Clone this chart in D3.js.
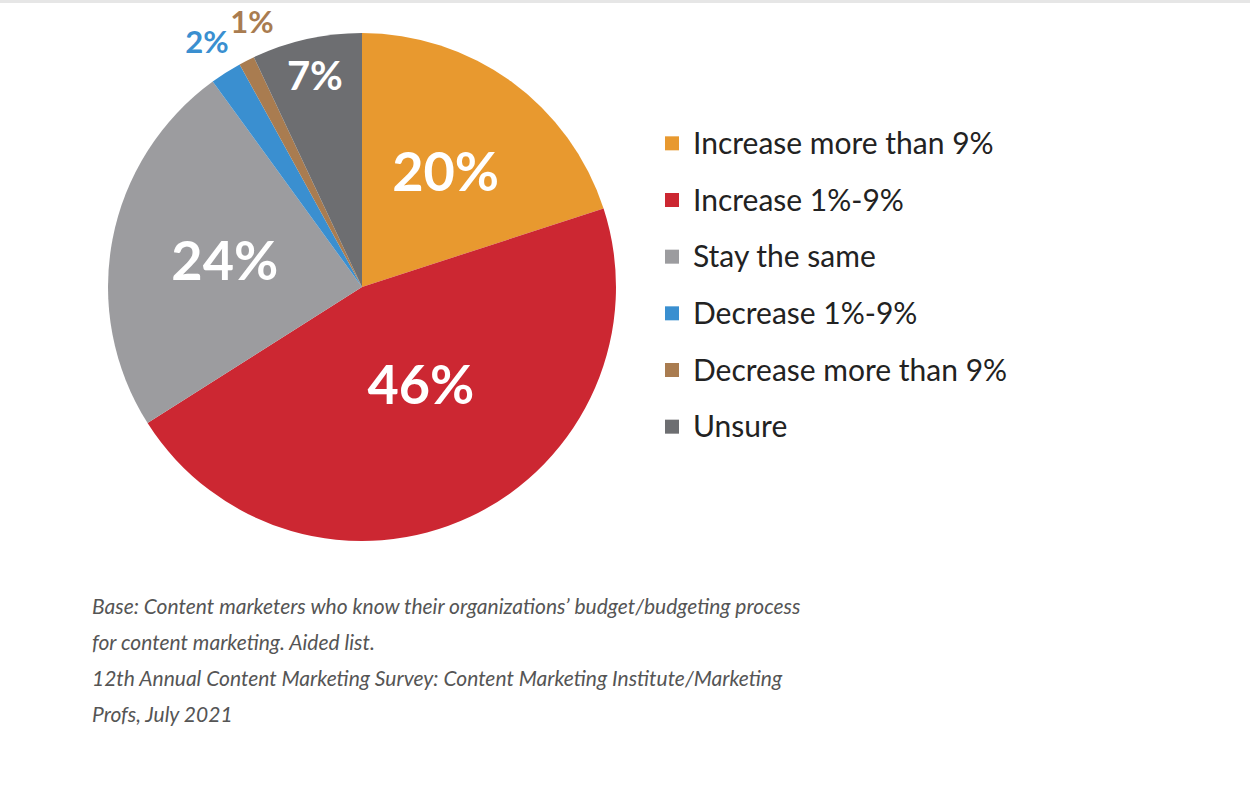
<!DOCTYPE html>
<html>
<head>
<meta charset="utf-8">
<script src="https://cdn.jsdelivr.net/npm/d3@7"></script>
<style>
  body { margin: 0; background: #fff; }
</style>
</head>
<body>
<script>
// data
var categories = ["Increase more than 9%", "Increase 1%-9%", "Stay the same", "Decrease 1%-9%", "Decrease more than 9%", "Unsure"];
var values = [20, 46, 24, 2, 1, 7];
var colors = ["#E8992F", "#CC2732", "#9C9C9F", "#3A8FD0", "#A97C50", "#6D6E71"];
var notes = [
  "Base: Content marketers who know their organizations\u2019 budget/budgeting process",
  "for content marketing. Aided list.",
  "12th Annual Content Marketing Survey: Content Marketing Institute/Marketing",
  "Profs, July 2021"
];

var width = 1250, height = 786;
var cx = 362, cy = 287, r = 254;

var svg = d3.select("body").append("svg")
  .attr("width", width)
  .attr("height", height);

// faint top border
svg.append("rect").attr("x", 0).attr("y", 0).attr("width", width).attr("height", 3).attr("fill", "#e6e6e6");

var pie = d3.pie().sort(null).value(function(d){ return d; });
var arcs = pie(values);
var arc = d3.arc().innerRadius(0).outerRadius(r);

var g = svg.append("g").attr("transform", "translate(" + cx + "," + cy + ")");
g.selectAll("path")
  .data(arcs)
  .enter()
  .append("path")
  .attr("d", arc)
  .attr("fill", function(d, i){ return colors[i]; });

// slice labels: inside ones white, small ones outside coloured
var labelPos = [
  {rr: 0.56, size: 54, fill: "#fff"},
  {rr: 0.45, size: 54, fill: "#fff"},
  {rr: 0.55, size: 54, fill: "#fff"},
  {rr: 1.14, size: 31, fill: colors[3]},
  {rr: 1.07, size: 31, fill: colors[4]},
  {rr: 0.85, size: 40, fill: "#fff"}
];
g.selectAll("text.pct")
  .data(arcs)
  .enter()
  .append("text")
  .attr("class", "pct")
  .attr("transform", function(d, i){
    var a = (d.startAngle + d.endAngle) / 2;
    var rr = r * labelPos[i].rr;
    if (i == 1) a = 2.6;
    if (i == 4) { return "translate(" + (-110) + "," + (-265) + ")"; }
    return "translate(" + (Math.sin(a) * rr) + "," + (-Math.cos(a) * rr) + ")";
  })
  .attr("text-anchor", "middle")
  .attr("dy", "0.35em")
  .style("font-family", "Lato, 'Open Sans', sans-serif")
  .style("font-weight", "bold")
  .style("font-size", function(d, i){ return labelPos[i].size + "px"; })
  .attr("fill", function(d, i){ return labelPos[i].fill; })
  .text(function(d){ return d.data + "%"; });

// legend
var y = d3.scaleBand().domain(categories).range([115, 455]);
var leg = svg.append("g").selectAll("g")
  .data(categories)
  .enter()
  .append("g")
  .attr("transform", function(d){ return "translate(665," + (y(d) + y.bandwidth() / 2) + ")"; });
leg.append("rect")
  .attr("x", 0).attr("y", -7).attr("width", 14).attr("height", 14)
  .attr("fill", function(d, i){ return colors[i]; });
leg.append("text")
  .attr("x", 28).attr("dy", "0.35em")
  .style("font-family", "'Source Sans Pro', Lato, 'Open Sans', sans-serif")
  .style("font-size", "30px")
  .attr("fill", "#222")
  .text(function(d){ return d; });

// footnote
svg.append("g").selectAll("text")
  .data(notes)
  .enter()
  .append("text")
  .attr("x", 92)
  .attr("y", function(d, i){ return 614 + i * 36; })
  .style("font-family", "Lato, 'Open Sans', sans-serif")
  .style("font-style", "italic")
  .style("font-size", "21px")
  .attr("fill", "#555")
  .text(function(d){ return d; });
</script>
</body>
</html>
